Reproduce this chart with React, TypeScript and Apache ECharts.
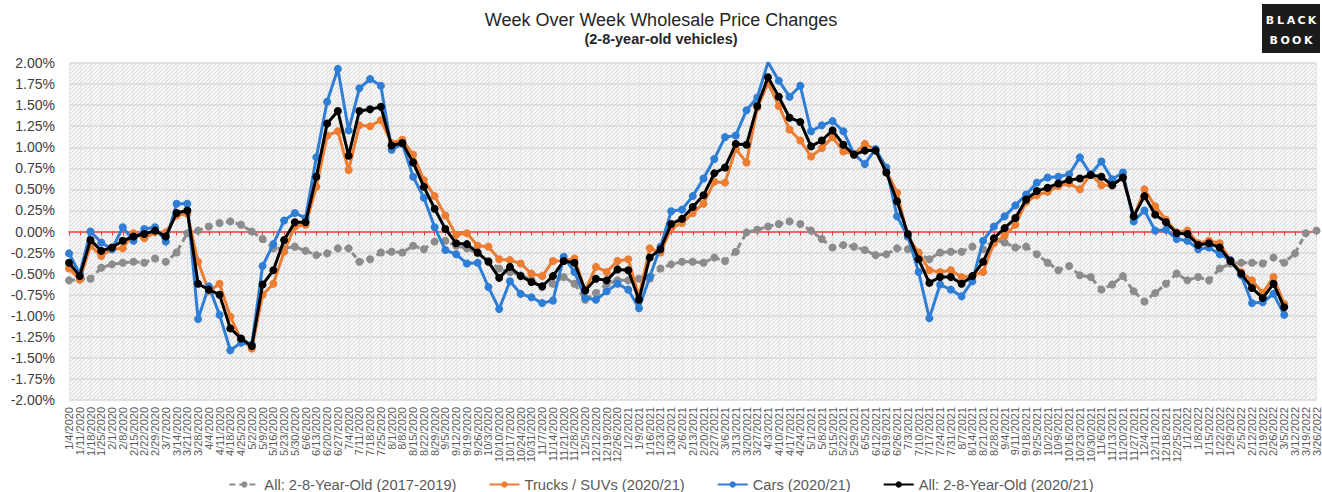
import React, { useEffect, useRef } from "react";
import * as echarts from "echarts";

const dates: string[] = [
  "1/4/2020","1/11/2020","1/18/2020","1/25/2020","2/1/2020","2/8/2020","2/15/2020","2/22/2020","2/29/2020","3/7/2020",
  "3/14/2020","3/21/2020","3/28/2020","4/4/2020","4/11/2020","4/18/2020","4/25/2020","5/2/2020","5/9/2020","5/16/2020",
  "5/23/2020","5/30/2020","6/6/2020","6/13/2020","6/20/2020","6/27/2020","7/4/2020","7/11/2020","7/18/2020","7/25/2020",
  "8/1/2020","8/8/2020","8/15/2020","8/22/2020","8/29/2020","9/5/2020","9/12/2020","9/19/2020","9/26/2020","10/3/2020",
  "10/10/2020","10/17/2020","10/24/2020","10/31/2020","11/7/2020","11/14/2020","11/21/2020","11/28/2020","12/5/2020","12/12/2020",
  "12/19/2020","12/26/2020",
  "1/2/2021","1/9/2021","1/16/2021","1/23/2021","1/30/2021","2/6/2021","2/13/2021","2/20/2021","2/27/2021","3/6/2021",
  "3/13/2021","3/20/2021","3/27/2021","4/3/2021","4/10/2021","4/17/2021","4/24/2021","5/1/2021","5/8/2021","5/15/2021",
  "5/22/2021","5/29/2021","6/5/2021","6/12/2021","6/19/2021","6/26/2021","7/3/2021","7/10/2021","7/17/2021","7/24/2021",
  "7/31/2021","8/7/2021","8/14/2021","8/21/2021","8/28/2021","9/4/2021","9/11/2021","9/18/2021","9/25/2021","10/2/2021",
  "10/9/2021","10/16/2021","10/23/2021","10/30/2021","11/6/2021","11/13/2021","11/20/2021","11/27/2021","12/4/2021","12/11/2021",
  "12/18/2021","12/25/2021",
  "1/1/2022","1/8/2022","1/15/2022","1/22/2022","1/29/2022","2/5/2022","2/12/2022","2/19/2022","2/26/2022","3/5/2022",
  "3/12/2022","3/19/2022","3/26/2022",
];

const all2017_2019: number[] = [
  -0.58,-0.57,-0.56,-0.43,-0.39,-0.37,-0.36,-0.37,-0.32,-0.36,
  -0.25,-0.02,0.01,0.06,0.10,0.12,0.08,0.00,-0.09,-0.20,
  -0.20,-0.18,-0.23,-0.28,-0.26,-0.20,-0.20,-0.36,-0.33,-0.25,
  -0.24,-0.25,-0.17,-0.21,-0.12,-0.11,-0.17,-0.20,-0.26,-0.35,
  -0.44,-0.48,-0.52,-0.57,-0.66,-0.62,-0.54,-0.62,-0.81,-0.73,
  -0.62,-0.58,-0.58,-0.56,-0.56,-0.44,-0.39,-0.36,-0.36,-0.37,
  -0.31,-0.35,-0.24,-0.01,0.02,0.06,0.09,0.12,0.09,0.01,
  -0.09,-0.19,-0.16,-0.18,-0.22,-0.28,-0.27,-0.20,-0.21,-0.26,
  -0.33,-0.25,-0.24,-0.24,-0.18,-0.21,-0.10,-0.13,-0.19,-0.18,
  -0.27,-0.37,-0.46,-0.41,-0.52,-0.54,-0.69,-0.63,-0.53,-0.71,
  -0.83,-0.73,-0.62,-0.50,-0.58,-0.54,-0.58,-0.44,-0.38,-0.37,
  -0.37,-0.38,-0.31,-0.37,-0.26,-0.02,0.01,
];

const trucks: number[] = [
  -0.44,-0.57,-0.17,-0.29,-0.21,-0.20,-0.02,-0.08,-0.01,-0.01,
  0.19,0.21,-0.36,-0.71,-0.62,-1.01,-1.28,-1.39,-0.75,-0.62,
  -0.24,0.06,0.08,0.53,1.14,1.19,0.73,1.26,1.25,1.32,
  1.05,1.09,0.91,0.61,0.42,0.19,-0.04,-0.02,-0.17,-0.18,
  -0.33,-0.34,-0.38,-0.50,-0.53,-0.35,-0.35,-0.32,-0.70,-0.42,
  -0.48,-0.35,-0.33,-0.77,-0.20,-0.25,0.04,0.10,0.22,0.33,
  0.59,0.58,0.98,0.82,1.47,1.76,1.49,1.21,1.08,0.89,
  0.99,1.12,0.95,0.92,1.04,0.97,0.72,0.46,-0.06,-0.25,
  -0.46,-0.48,-0.46,-0.54,-0.53,-0.48,-0.14,-0.05,0.08,0.35,
  0.43,0.47,0.54,0.57,0.50,0.68,0.55,0.55,0.64,0.17,
  0.50,0.30,0.14,-0.01,0.01,-0.14,-0.11,-0.14,-0.34,-0.48,
  -0.58,-0.73,-0.54,-0.86,
];

const cars: number[] = [
  -0.26,-0.50,0.00,-0.13,-0.21,0.05,-0.11,0.03,0.05,-0.12,
  0.33,0.33,-1.04,-0.65,-0.99,-1.41,-1.32,-1.34,-0.41,-0.15,
  0.13,0.22,0.16,0.88,1.54,1.93,1.20,1.70,1.81,1.73,
  0.97,1.04,0.65,0.40,0.05,-0.22,-0.27,-0.38,-0.37,-0.66,
  -0.92,-0.59,-0.74,-0.78,-0.85,-0.82,-0.30,-0.48,-0.79,-0.81,
  -0.71,-0.62,-0.69,-0.91,-0.54,-0.18,0.24,0.26,0.42,0.63,
  0.86,1.12,1.14,1.44,1.59,2.01,1.79,1.60,1.73,1.19,
  1.26,1.31,1.19,0.92,0.80,0.98,0.76,0.18,-0.06,-0.48,
  -1.03,-0.63,-0.69,-0.77,-0.59,-0.11,0.06,0.18,0.31,0.44,
  0.58,0.64,0.65,0.68,0.88,0.68,0.83,0.62,0.70,0.12,
  0.25,0.01,0.02,-0.09,-0.11,-0.21,-0.19,-0.27,-0.34,-0.52,
  -0.85,-0.84,-0.74,-0.99,
];

const all2020_21: number[] = [
  -0.37,-0.53,-0.10,-0.23,-0.19,-0.11,-0.06,-0.03,0.01,-0.06,
  0.22,0.25,-0.62,-0.69,-0.75,-1.15,-1.27,-1.36,-0.63,-0.46,
  -0.10,0.11,0.11,0.65,1.28,1.43,0.90,1.43,1.45,1.48,
  1.02,1.05,0.82,0.53,0.27,0.03,-0.14,-0.15,-0.25,-0.36,
  -0.55,-0.42,-0.53,-0.60,-0.65,-0.53,-0.35,-0.37,-0.70,-0.56,
  -0.58,-0.45,-0.46,-0.81,-0.31,-0.21,0.09,0.15,0.29,0.43,
  0.69,0.76,1.04,1.03,1.49,1.83,1.60,1.35,1.30,1.01,
  1.08,1.20,1.03,0.91,0.96,0.96,0.70,0.36,-0.03,-0.33,
  -0.61,-0.54,-0.54,-0.62,-0.53,-0.36,-0.08,0.04,0.16,0.38,
  0.48,0.52,0.57,0.61,0.63,0.67,0.65,0.55,0.64,0.18,
  0.42,0.20,0.11,-0.02,-0.03,-0.16,-0.14,-0.19,-0.35,-0.50,
  -0.67,-0.79,-0.62,-0.90,
];

const seriesNames = [
  "All: 2-8-Year-Old (2017-2019)",
  "Trucks / SUVs (2020/21)",
  "Cars (2020/21)",
  "All: 2-8-Year-Old (2020/21)",
];
const seriesColors = ["#8c8c8c", "#ED7D31", "#2F7ED6", "#000000"];

const logoLines = ["BLACK", "BOOK"];

const FONT = "'Liberation Sans', Arial, sans-serif";

function makeHatch(): string {
  const c = document.createElement("canvas");
  c.width = 4;
  c.height = 4;
  const ctx = c.getContext("2d");
  if (!ctx) return "";
  ctx.fillStyle = "#f6f6f6";
  ctx.fillRect(0, 0, 4, 4);
  ctx.strokeStyle = "#dadada";
  ctx.lineWidth = 1;
  ctx.beginPath();
  ctx.moveTo(-1, 5);
  ctx.lineTo(5, -1);
  ctx.stroke();
  return c.toDataURL();
}

function logoLetters(): any[] {
  const out: any[] = [];
  const cx = 1291;
  const ys = [20, 40];
  const spacing = [10.5, 11.5];
  logoLines.forEach((word, li) => {
    const n = word.length;
    for (let k = 0; k < n; k++) {
      out.push({
        type: "text",
        x: cx + (k - (n - 1) / 2) * spacing[li],
        y: ys[li],
        style: {
          text: word[k],
          fill: "#ffffff",
          font: "bold 11px 'DejaVu Sans', sans-serif",
          align: "center",
          verticalAlign: "middle",
        },
      });
    }
  });
  return out;
}

export default function App() {
  const ref = useRef<HTMLDivElement>(null);
  useEffect(() => {
    if (!ref.current) return;
    const chart = echarts.init(ref.current, undefined, { renderer: "svg" });
    const hatch = makeHatch();
    const bg: any = hatch
      ? { image: hatch, repeat: "repeat", imageWidth: 4, imageHeight: 4 }
      : "#efefef";
    const dataSets = [all2017_2019, trucks, cars, all2020_21];
    chart.setOption({
      animation: false,
      backgroundColor: "#ffffff",
      textStyle: { fontFamily: FONT },
      title: {
        text: "Week Over Week Wholesale Price Changes",
        subtext: "(2-8-year-old vehicles)",
        left: "center",
        top: 6,
        itemGap: 2,
        textStyle: { fontSize: 18, fontWeight: "normal", color: "#262626", fontFamily: FONT },
        subtextStyle: { fontSize: 14.5, fontWeight: "bold", color: "#262626", fontFamily: FONT },
      },
      graphic: [
        {
          type: "rect",
          shape: { x: 1262, y: 4, width: 58, height: 49 },
          style: { fill: "#1b1b1b" },
        },
        ...logoLetters(),
      ],
      legend: {
        data: seriesNames,
        left: "center",
        top: 472,
        itemWidth: 30,
        itemHeight: 8,
        itemGap: 32,
        textStyle: { fontSize: 14.7, color: "#595959", fontFamily: FONT },
      },
      grid: {
        left: 69,
        right: 2,
        top: 63,
        bottom: 92,
        show: true,
        backgroundColor: bg,
        borderWidth: 0,
      },
      xAxis: [
        {
          type: "category",
          data: dates,
          boundaryGap: false,
          position: "bottom",
          axisLine: { show: true, onZero: true, lineStyle: { color: "#ff3b3b", width: 1.5 } },
          axisTick: { show: true, interval: 0, length: 4, inside: false, lineStyle: { color: "#ff3b3b", width: 1 } },
          axisLabel: { show: false },
          splitLine: { show: true, interval: 0, lineStyle: { color: "#e4e4e4", width: 1 } },
          z: 3,
        },
        {
          type: "category",
          data: dates,
          boundaryGap: false,
          position: "bottom",
          axisLine: { show: false, onZero: false },
          axisTick: { show: false },
          splitLine: { show: false },
          axisLabel: {
            show: true,
            interval: 0,
            rotate: 90,
            fontSize: 11,
            color: "#595959",
            margin: 7,
            fontFamily: FONT,
          },
        },
      ],
      yAxis: {
        type: "value",
        min: -2,
        max: 2,
        interval: 0.25,
        axisLine: { show: false },
        axisTick: { show: false },
        axisLabel: {
          fontSize: 14,
          color: "#404040",
          margin: 14,
          fontFamily: FONT,
          formatter: (v: number) => v.toFixed(2) + "%",
        },
        splitLine: { show: true, lineStyle: { color: "#d9d9d9", width: 1.5 } },
      },
      series: dataSets.map((d, i) => ({
        name: seriesNames[i],
        type: "line",
        xAxisIndex: 0,
        data: d,
        symbol: "circle",
        symbolSize: 8,
        showAllSymbol: true,
        z: 10 + i,
        itemStyle: { color: seriesColors[i] },
        lineStyle: {
          color: seriesColors[i],
          width: 3,
          type: i === 0 ? [6, 4] : "solid",
        },
      })),
    });
    return () => chart.dispose();
  }, []);
  return (
    <div
      ref={ref}
      style={{ position: "fixed", left: 0, top: 0, width: 1322, height: 492 }}
    />
  );
}
